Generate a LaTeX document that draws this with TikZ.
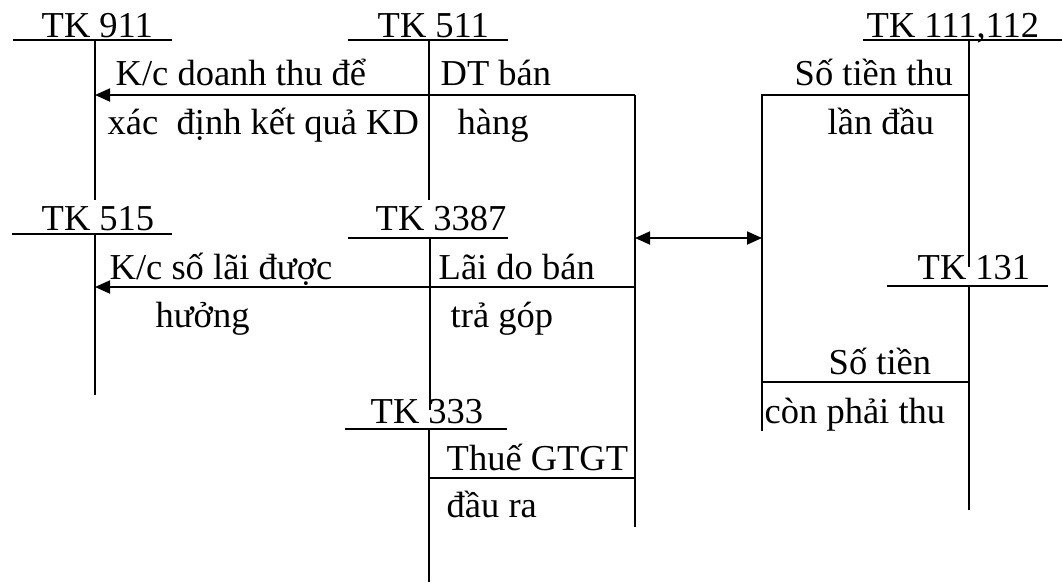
\documentclass[tikz,border=0pt]{standalone}
\usepackage{fontspec}
\setmainfont{Liberation Serif}
\usetikzlibrary{arrows.meta}
\begin{document}
\begin{tikzpicture}[x=1pt,y=-1pt,line width=1.4pt,
  lbl/.style={anchor=base west,inner sep=0pt,font=\fontsize{36.5}{40}\selectfont},
  tip/.style={-{Triangle[length=15pt,width=13pt]},line width=1.8pt},
  dbltip/.style={{Triangle[length=15pt,width=13pt]}-{Triangle[length=15pt,width=13pt]},line width=1.8pt}]
\useasboundingbox (0,0) rectangle (1062,582);

% T-account corners: heading bar ends, column top and bottom
\coordinate (a911l) at (13,40);   \coordinate (a911r) at (172,40);
\coordinate (a911t) at (95,40);   \coordinate (a911b) at (95,200);
\coordinate (a511l) at (348,40);  \coordinate (a511r) at (508,40);
\coordinate (a511t) at (429,40);  \coordinate (a511b) at (429,200);
\coordinate (a111l) at (863,40);  \coordinate (a111r) at (1062,40);
\coordinate (a111t) at (969,40);  \coordinate (a111b) at (969,267);
\coordinate (a515l) at (12,234);  \coordinate (a515r) at (172,234);
\coordinate (a515t) at (95,234);  \coordinate (a515b) at (95,395);
\coordinate (a3387l) at (348,238); \coordinate (a3387r) at (508,238);
\coordinate (a3387t) at (430,238); \coordinate (a3387b) at (430,410);
\coordinate (a131l) at (887,286); \coordinate (a131r) at (1048,286);
\coordinate (a131t) at (969,286); \coordinate (a131b) at (969,510);
\coordinate (a333l) at (345,429); \coordinate (a333r) at (507,429);
\coordinate (a333t) at (429,429); \coordinate (a333b) at (429,582);

% sales column and its branches
\coordinate (s1) at (635,95);  \coordinate (k1) at (95,95);
\coordinate (s2) at (635,287); \coordinate (k2) at (95,287);
\coordinate (s4) at (635,478); \coordinate (t4) at (429,478);
\coordinate (sb) at (635,527);
% collection column and its branches
\coordinate (c1) at (762,95);  \coordinate (c1r) at (969,95);
\coordinate (c3) at (762,382); \coordinate (c3r) at (969,382);
\coordinate (cb) at (762,431);

% account headings
\node[lbl] (tk911) at (41,37) {TK 911};
\node[lbl] (tk511) at (377,37) {TK 511};
\node[lbl] (tk111) at (866,37) {TK 111,112};
\node[lbl] (tk515) at (41,230) {TK 515};
\node[lbl] (tk3387) at (375,230) {TK 3387};
\node[lbl] (tk131) at (917,279) {TK 131};
\node[lbl] (tk333) at (370,423) {TK 333};

% T-accounts
\foreach \a in {911,511,111,515,3387,131,333}{
  \draw (a\a l) -- (a\a r);
  \draw (a\a t) -- (a\a b);
}

% entry texts
\node[lbl] (kc1)  at (115,85)  {K/c doanh thu để};
\node[lbl] (kc1b) at (107,134) {xác\ \ định kết quả KD};
\node[lbl] (dt1)  at (440,85)  {DT bán};
\node[lbl] (dt2)  at (457,134) {hàng};
\node[lbl] (thu1) at (794,85)  {Số tiền thu};
\node[lbl] (thu2) at (827,134) {lần đầu};
\node[lbl] (kc2)  at (109,279) {K/c số lãi được};
\node[lbl] (kc2b) at (155,327) {hưởng};
\node[lbl] (lai1) at (438,279) {Lãi do bán};
\node[lbl] (lai2) at (450,327) {trả góp};
\node[lbl] (con1) at (828,374) {Số tiền};
\node[lbl] (con2) at (764,423) {còn phải thu};
\node[lbl] (vat1) at (446,470) {Thuế GTGT};
\node[lbl] (vat2) at (446,517) {đầu ra};

% sales side
\draw (s1) -- (sb);
\draw[tip] (s1) -- (k1);
\draw[tip] (s2) -- (k2);
\draw (s4) -- (t4);

% collection side
\draw (c1r) -- (c1) -- (cb);
\draw (c3) -- (c3r);

% link between the two sides
\coordinate (d1) at (635,238);
\coordinate (d2) at (762,238);
\draw[dbltip] (d1) -- (d2);
\end{tikzpicture}
\end{document}
